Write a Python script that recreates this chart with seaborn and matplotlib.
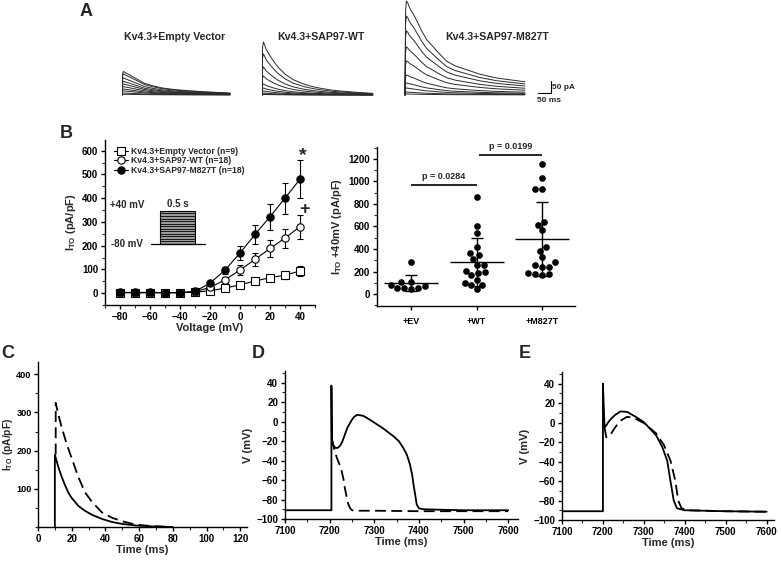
import numpy as np
import pandas as pd
import matplotlib
matplotlib.use("Agg")
import matplotlib.pyplot as plt
import seaborn as sns
from matplotlib.ticker import MultipleLocator
from matplotlib.patches import Rectangle

# ---------------- Panel A: current traces (normalised shapes + peak amplitudes) -------------
ev_shape_t = [0, 2, 5, 12, 20, 29, 42, 55, 70, 82, 110, 148, 180, 214, 260, 300, 350, 400]
ev_shape_f = [0, 0.9, 1.0, 0.95, 0.9, 0.85, 0.76, 0.68, 0.58, 0.5, 0.4, 0.3, 0.25, 0.21, 0.17, 0.14, 0.11, 0.08]
ev_amps = [98, 88, 71, 57, 46, 35, 25, 17, 8, 3]

wt_shape_t = [0, 2, 5, 10, 15, 22, 33, 45, 60, 86, 115, 152, 185, 218, 260, 300, 350, 410]
wt_shape_f = [0, 0.9, 1.0, 0.94, 0.86, 0.8, 0.71, 0.62, 0.52, 0.39, 0.29, 0.21, 0.16, 0.125, 0.09, 0.07, 0.05, 0.03]
wt_amps = [221, 171, 117, 79, 46, 29, 17, 8, 4, 2]

mt_shape_t = [0, 2, 5, 10, 15, 22, 31, 45, 60, 80, 105, 130, 154, 185, 216, 278, 340, 444]
mt_shape_f = [0, 0.9, 1.0, 0.98, 0.94, 0.9, 0.86, 0.78, 0.69, 0.59, 0.51, 0.43, 0.36, 0.31, 0.28, 0.22, 0.18, 0.14]
mt_amps = [392, 329, 267, 200, 142, 83, 50, 29, 12, 4]

group_titles = ["Kv4.3+Empty Vector", "Kv4.3+SAP97-WT", "Kv4.3+SAP97-M827T"]

# ---------------- Panel B left: I-V relation -------------
volt = [-80, -70, -60, -50, -40, -30, -20, -10, 0, 10, 20, 30, 40]
ev_mean = [2, 2, 2, 2, 2, 4, 10, 21, 35, 51, 65, 76, 93]
ev_err = [2, 2, 2, 2, 2, 3, 5, 7, 10, 13, 15, 18, 22]
wt_mean = [2, 2, 2, 2, 2, 6, 24, 56, 97, 142, 188, 232, 280]
wt_err = [2, 2, 2, 2, 2, 4, 8, 12, 20, 28, 35, 40, 50]
mt_mean = [3, 3, 3, 2, 2, 7, 42, 97, 169, 247, 322, 400, 480]
mt_err = [2, 2, 2, 2, 2, 4, 10, 15, 30, 42, 55, 65, 80]
iv_labels = ["Kv4.3+Empty Vector (n=9)", "Kv4.3+SAP97-WT (n=18)", "Kv4.3+SAP97-M827T (n=18)"]

# ---------------- Panel B right: +40 mV scatter -------------
scatter_cats = ["+EV", "+WT", "+M827T"]
ev_pts = [112, 112, 74, 59, 59, 59, 50, 80, 287]
wt_pts = [47, 103, 166, 343, 260, 260, 195, 310, 414, 866, 606, 544, 127, 207, 83, 83, 364, 189]
mt_pts = [281, 257, 189, 245, 180, 180, 245, 166, 387, 331, 414, 570, 636, 615, 934, 934, 1032, 1156]
p_texts = ["p = 0.0284", "p = 0.0199"]

# ---------------- Panel C: simulated I_TO -------------
c_solid_t = [10, 10, 12, 14, 16, 18, 20, 24, 28, 32, 38, 44, 50, 58, 70, 80]
c_solid_v = [0, 189, 158, 132, 110, 90, 76, 55, 42, 32, 21, 13, 8, 4, 1, 0]
c_dash_t = [10.5, 10.5, 12, 14, 16, 18, 20, 24, 28, 32, 38, 44, 50, 58, 66, 75]
c_dash_v = [190, 325, 295, 262, 232, 205, 180, 130, 90, 66, 38, 24, 15, 6, 3, 1]

# ---------------- Panel D: action potentials -------------
d_solid_t = [7100, 7204, 7204, 7205, 7208, 7213, 7218, 7223, 7228, 7232, 7236, 7240, 7245, 7250,
             7255, 7262, 7275, 7290, 7300, 7320, 7343, 7355, 7365, 7373, 7380, 7385, 7388, 7392,
             7395, 7400, 7410, 7450, 7500, 7600]
d_solid_v = [-91, -91, 37, -18, -24, -27, -27, -25, -21, -16, -11, -6, -2, 2,
             5, 7, 6, 2, -1, -7, -15, -20, -27, -34, -44, -55, -65, -76,
             -85, -89, -90, -90.5, -91, -91]
d_dash_t = [7205, 7210, 7216, 7222, 7227, 7231, 7234, 7238, 7242, 7246, 7250, 7260, 7300, 7400, 7500, 7600]
d_dash_v = [-18, -28, -37, -44, -51, -59, -68, -77, -85, -89, -91, -91.5, -91.5, -92, -92, -92]

# ---------------- Panel E: action potentials -------------
e_solid_t = [7100, 7200, 7200, 7204, 7208, 7214, 7220, 7230, 7243, 7259, 7280, 7300, 7330, 7345,
             7357, 7365, 7373, 7381, 7400, 7500, 7600]
e_solid_v = [-91, -91, 40, -5, -3, 1, 4, 8, 11.5, 11, 6, 0.5, -13, -25,
             -39, -60, -80, -88, -90, -91, -91.5]
e_dash_t = [7204, 7208, 7216, 7222, 7228, 7235, 7243, 7259, 7275, 7300, 7330, 7349, 7365, 7377,
            7384, 7392, 7408, 7500, 7600]
e_dash_v = [-5, -15, -14, -10, -6, -2, 2, 6, 5, -0.5, -11, -23, -39, -60,
            -80, -88, -90, -91, -91.5]

# =====================================================================
sns.set_theme(style="ticks")
plt.rcParams["font.family"] = ["Liberation Sans", "DejaVu Sans"]
plt.rcParams["font.weight"] = "bold"
plt.rcParams["axes.labelweight"] = "bold"
plt.rcParams["mathtext.fontset"] = "custom"
plt.rcParams["mathtext.rm"] = "Liberation Sans:bold"
plt.rcParams["mathtext.it"] = "Liberation Sans:bold"
plt.rcParams["mathtext.bf"] = "Liberation Sans:bold"
plt.rcParams["axes.edgecolor"] = "black"
plt.rcParams["axes.linewidth"] = 1.0

W, H = 781, 561
fig = plt.figure(figsize=(W / 100, H / 100), dpi=100)


def add_ax(l, t, r, b):
    return fig.add_axes([l / W, 1 - b / H, (r - l) / W, (b - t) / H])


def style(ax, fs=7):
    sns.despine(ax=ax)
    ax.tick_params(which="major", direction="out", length=3, width=1, labelsize=fs,
                   colors="black", pad=2)
    ax.tick_params(which="minor", direction="out", length=2, width=0.8)
    for lab in ax.get_xticklabels() + ax.get_yticklabels():
        lab.set_fontweight("bold")


def line(ax, t, v, dashed=False, lw=1.3):
    df = pd.DataFrame({"t": t, "v": v})
    kw = dict(linestyle=(0, (6, 3))) if dashed else {}
    sns.lineplot(data=df, x="t", y="v", ax=ax, color="black", lw=lw, estimator=None,
                 sort=False, **kw)


# ---------------- Panel A -------------
px_ms = 0.27
groups = [(121.5, ev_shape_t, ev_shape_f, ev_amps),
          (261.5, wt_shape_t, wt_shape_f, wt_amps),
          (404.5, mt_shape_t, mt_shape_f, mt_amps)]
a_axes = []
for left, st, sf, amps in groups:
    ax = add_ax(left, 0, left + 452 * px_ms, 100)
    for a in amps:
        df = pd.DataFrame({"t": st, "i": np.asarray(sf) * a})
        sns.lineplot(data=df, x="t", y="i", ax=ax, color="#2a2a2a", lw=0.7,
                     estimator=None, sort=False)
    ax.set_xlim(-2, 450)
    ax.set_ylim(-21, 396)
    ax.axis("off")
    a_axes.append(ax)
for xc, ttl in zip([175, 321, 497], group_titles):
    fig.text(xc / W, 1 - 37 / H, ttl, ha="center", va="center", fontsize=7.6, fontweight="bold")
axm = a_axes[2]
axm.plot([491, 541], [8, 8], color="black", lw=0.8, clip_on=False)
axm.plot([541, 541], [8, 58], color="black", lw=0.8, clip_on=False)
axm.text(546, 33, "50 pA", fontsize=6, fontweight="bold", va="center", ha="left", clip_on=False)
axm.text(490, -22, "50 ms", fontsize=6, fontweight="bold", va="center", ha="left", clip_on=False)

# ---------------- Panel B left -------------
axb = add_ax(105, 140, 315, 305)
series = [(ev_mean, ev_err, "s", "white"), (wt_mean, wt_err, "o", "white"), (mt_mean, mt_err, "o", "black")]
for (m, e, mk, fc), lab in zip(series, iv_labels):
    axb.errorbar(volt, m, yerr=e, fmt="none", ecolor="black", elinewidth=0.8, capsize=2,
                 capthick=0.8, zorder=2)
    df = pd.DataFrame({"V": volt, "I": m})
    sns.lineplot(data=df, x="V", y="I", ax=axb, color="black", lw=0.8, marker=mk,
                 markersize=5.3, markerfacecolor=fc, markeredgecolor="black",
                 markeredgewidth=0.8, label=lab, estimator=None, sort=False, zorder=3)
axb.set_xlim(-90, 50)
axb.set_ylim(-50, 645)
axb.set_xticks(range(-80, 41, 20))
axb.xaxis.set_minor_locator(MultipleLocator(10))
axb.set_yticks(range(0, 601, 100))
axb.yaxis.set_minor_locator(MultipleLocator(50))
axb.set_xlabel("Voltage (mV)", fontsize=8, labelpad=1)
axb.set_ylabel(r"I$_{\rm TO}$ (pA/pF)", fontsize=8, labelpad=3)
leg = axb.legend(loc="upper left", bbox_to_anchor=(0.02, 0.99), frameon=False, fontsize=6.2,
                 handlelength=1.6, handletextpad=0.3, labelspacing=0.05, borderaxespad=0.2)
for t in leg.get_texts():
    t.set_fontweight("bold")
axb.text(42, 578, "*", fontsize=14, fontweight="bold", ha="center", va="center")
axb.text(43, 352, "+", fontsize=13, fontweight="bold", ha="center", va="center")
# pulse protocol inset
tr = axb.transAxes
axb.add_patch(Rectangle((0.262, 0.37), 0.167, 0.20, transform=tr, facecolor="#9a9a9a",
                        edgecolor="black", lw=0.8))
for yy in np.linspace(0.385, 0.555, 12):
    axb.plot([0.262, 0.429], [yy, yy], color="black", lw=0.6, transform=tr)
axb.plot([0.219, 0.476], [0.37, 0.37], color="black", lw=0.9, transform=tr)
axb.text(0.024, 0.606, "+40 mV", transform=tr, fontsize=7, fontweight="bold", va="center")
axb.text(0.03, 0.37, "-80 mV", transform=tr, fontsize=7, fontweight="bold", va="center")
axb.text(0.345, 0.61, "0.5 s", transform=tr, fontsize=7, fontweight="bold", va="center", ha="center")
style(axb)

# ---------------- Panel B right -------------
axs = add_ax(377, 147, 575, 306)
sdf = pd.DataFrame({"grp": ["+EV"] * len(ev_pts) + ["+WT"] * len(wt_pts) + ["+M827T"] * len(mt_pts),
                    "val": ev_pts + wt_pts + mt_pts})
sns.swarmplot(data=sdf, x="grp", y="val", order=scatter_cats, color="black", size=4.8, ax=axs)
for i, pts in enumerate([ev_pts, wt_pts, mt_pts]):
    mu, sd = np.mean(pts), np.std(pts, ddof=1)
    axs.hlines(mu, i - 0.41, i + 0.41, color="black", lw=1.0)
    axs.errorbar(i, mu, yerr=sd, fmt="none", ecolor="black", elinewidth=1.0, capsize=4, capthick=1.0)
axs.hlines(964, 0, 1, color="black", lw=1.2)
axs.hlines(1233, 1.04, 2, color="black", lw=1.2)
axs.text(0.5, 1040, p_texts[0], ha="center", va="center", fontsize=6.5, fontweight="bold")
axs.text(1.52, 1308, p_texts[1], ha="center", va="center", fontsize=6.5, fontweight="bold")
axs.set_xlim(-0.52, 2.5)
axs.set_ylim(-105, 1305)
axs.set_yticks(range(0, 1201, 200))
axs.yaxis.set_minor_locator(MultipleLocator(100))
axs.set_xlabel("")
axs.set_ylabel(r"I$_{\rm TO}$ +40mV (pA/pF)", fontsize=8, labelpad=3)
style(axs)
axs.tick_params(axis="x", labelsize=6.5, pad=5)

# ---------------- Panel C -------------
axc = add_ax(38, 362, 247, 527)
line(axc, c_solid_t, c_solid_v)
line(axc, c_dash_t, c_dash_v, dashed=True)
axc.set_xlim(0, 124)
axc.set_ylim(0, 432)
axc.set_xticks(range(0, 121, 20))
axc.xaxis.set_minor_locator(MultipleLocator(10))
axc.set_yticks(range(100, 401, 100))
axc.yaxis.set_minor_locator(MultipleLocator(50))
axc.set_xlabel("Time (ms)", fontsize=8, labelpad=1)
axc.set_ylabel(r"I$_{\rm TO}$ (pA/pF)", fontsize=7.4)
style(axc)
axc.tick_params(axis="y", labelsize=6.6, pad=1.5)
axc.yaxis.set_label_coords(-0.11, 0.5)

# ---------------- Panels D and E -------------
for (l, t, r, b, xmax), (st, sv, dt, dv) in zip(
        [(285, 371, 518, 519, 7622), (562, 372, 774, 520, 7618)],
        [(d_solid_t, d_solid_v, d_dash_t, d_dash_v), (e_solid_t, e_solid_v, e_dash_t, e_dash_v)]):
    ax = add_ax(l, t, r, b)
    line(ax, st, sv)
    line(ax, dt, dv, dashed=True)
    ax.set_xlim(7100, xmax)
    ax.set_ylim(-100, 52)
    ax.set_xticks(range(7100, 7601, 100))
    ax.xaxis.set_minor_locator(MultipleLocator(50))
    ax.set_yticks(range(-100, 41, 20))
    ax.yaxis.set_minor_locator(MultipleLocator(10))
    ax.set_xlabel("Time (ms)", fontsize=8, labelpad=1)
    ax.set_ylabel("V (mV)", fontsize=8, labelpad=2)
    style(ax)

# ---------------- Panel letters -------------
for x, y, s in [(86, 12, "A"), (66, 134, "B"), (8, 353, "C"), (258, 353, "D"), (525, 353, "E")]:
    fig.text(x / W, 1 - y / H, s, fontsize=13, fontweight="bold", ha="center", va="center")

fig.savefig("out.png", dpi=100)
